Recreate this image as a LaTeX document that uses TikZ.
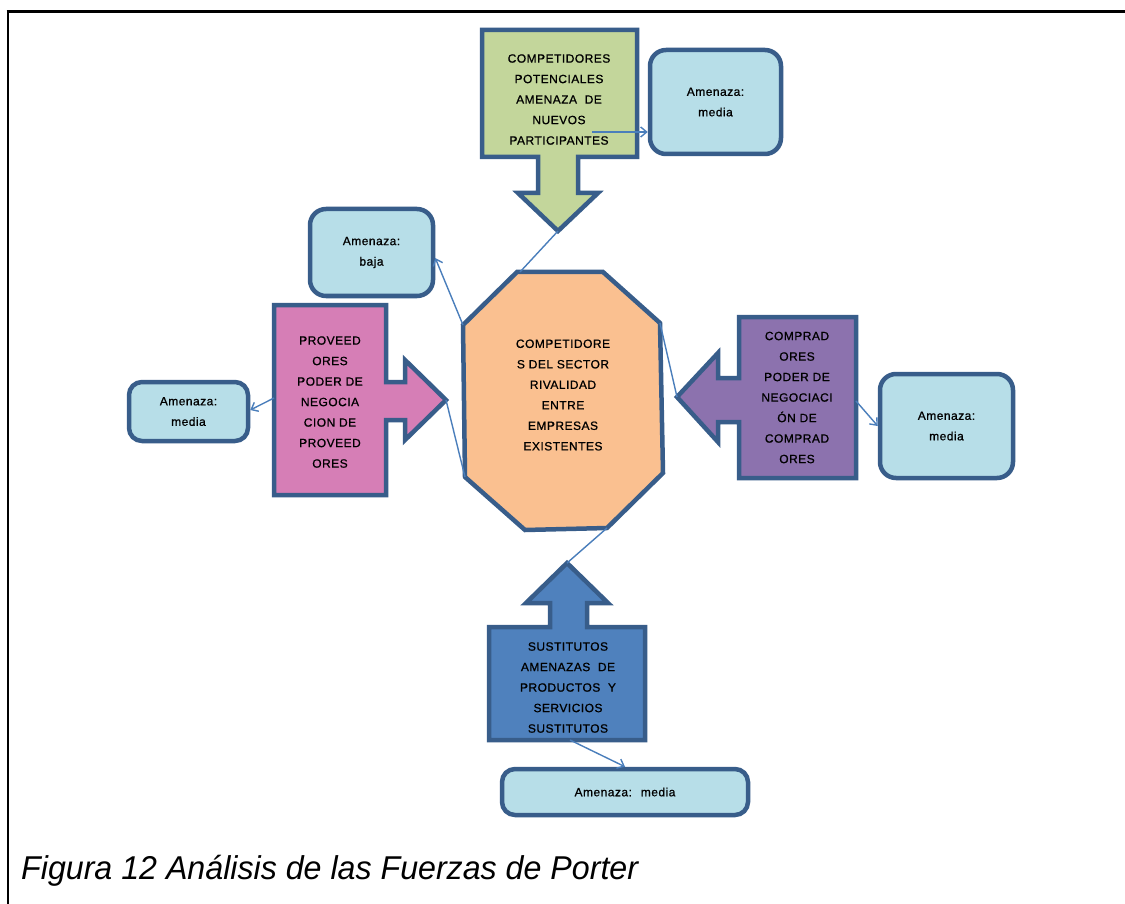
\documentclass[tikz,border=0pt]{standalone}
\usepackage{fontspec}
\setmainfont{Liberation Sans}
\newfontfamily\boxfont[LetterSpace=4, FakeBold=0.8]{Liberation Sans}
\usetikzlibrary{arrows.meta}

\definecolor{edge}{HTML}{385D8A}
\definecolor{link}{HTML}{4A7EBB}
\definecolor{sky}{HTML}{B7DEE8}
\definecolor{olive}{HTML}{C3D69B}
\definecolor{rose}{HTML}{D67EB6}
\definecolor{lilac}{HTML}{8C72AE}
\definecolor{steel}{HTML}{4F81BD}
\definecolor{peach}{HTML}{FAC090}

\tikzset{
  shapeline/.style={draw=edge, line width=4.5pt, line join=miter},
  txt/.style={font=\boxfont\fontsize{12}{20.5}\selectfont, align=center, inner sep=0pt},
  threat/.style={shapeline, fill=sky, rounded corners=16pt, txt},
  conn/.style={draw=link, line width=1.4pt},
  connarrow/.style={conn, -{Straight Barb[length=6pt,width=10pt]}},
}

\begin{document}
\begin{tikzpicture}[x=1pt, y=-1pt]
\useasboundingbox (0,0) rectangle (1125,904);
\fill[white] (0,0) rectangle (1125,904);

% frame lines
\draw[line width=3pt] (6.5,12) -- (1125,12);
\draw[line width=2pt] (8,12) -- (8,904);

% threats (new entrants)
\draw[shapeline, fill=olive] (482,30) -- (637,30) -- (637,157) -- (578,157) -- (578,193)
  -- (598,193) -- (558,231) -- (518,193) -- (538,193) -- (538,157) -- (482,157) -- cycle;
\coordinate (topTip) at (558,231);
\coordinate (topOut) at (592,132);
\node[txt] (tTop) at (559,99.5) {COMPETIDORES\\POTENCIALES\\AMENAZA \ DE\\NUEVOS\\PARTICIPANTES};

% suppliers
\draw[shapeline, fill=rose] (274,305) -- (386,305) -- (386,382) -- (405,382) -- (405,360)
  -- (446,400) -- (405,440) -- (405,420) -- (386,420) -- (386,495) -- (274,495) -- cycle;
\coordinate (leftTip) at (446,400);
\coordinate (leftOut) at (274,398);
\node[txt] (tLeft) at (330,402) {PROVEED\\ORES\\PODER DE\\NEGOCIA\\CION DE\\PROVEED\\ORES};

% buyers
\draw[shapeline, fill=lilac] (856,317) -- (739,317) -- (739,378) -- (718,378) -- (718,353)
  -- (677,397) -- (718,442) -- (718,422) -- (739,422) -- (739,478) -- (856,478) -- cycle;
\coordinate (rightTip) at (677,397);
\coordinate (rightOut) at (856,401);
\node[txt] (tRight) at (797,397.5) {COMPRAD\\ORES\\PODER DE\\NEGOCIACI\\ÓN DE\\COMPRAD\\ORES};

% substitutes
\draw[shapeline, fill=steel] (489,740) -- (489,627) -- (550,627) -- (550,603) -- (526,603)
  -- (567,563) -- (608,603) -- (587,603) -- (587,627) -- (645,627) -- (645,740) -- cycle;
\coordinate (botTip) at (567,563);
\coordinate (botOut) at (570,740);
\node[txt] (tBot) at (568,687.5) {SUSTITUTOS\\AMENAZAS \ DE\\PRODUCTOS \ Y\\SERVICIOS\\SUSTITUTOS};

% rivalry among existing firms
\coordinate (oA) at (517,272);
\coordinate (oB) at (603,272);
\coordinate (oC) at (660,323);
\coordinate (oD) at (663,473);
\coordinate (oE) at (607,528);
\coordinate (oF) at (525,530);
\coordinate (oG) at (465,477);
\coordinate (oH) at (463,325);
\draw[shapeline, fill=peach] (oA) -- (oB) -- (oC) -- (oD) -- (oE) -- (oF) -- (oG) -- (oH) -- cycle;
\node[txt] (tCore) at (563,395) {COMPETIDORE\\S DEL SECTOR\\RIVALIDAD\\ENTRE\\EMPRESAS\\EXISTENTES};

% threat levels
\node[threat, minimum width=131pt, minimum height=104pt] (aTop) at (715.5,102) {Amenaza:\\media};
\node[threat, minimum width=123pt, minimum height=87pt] (aBaja) at (371.5,252.5) {Amenaza:\\baja};
\node[threat, rounded corners=13pt, minimum width=119pt, minimum height=59pt] (aLeft) at (188.5,411.5) {Amenaza:\\media};
\node[threat, minimum width=133pt, minimum height=104pt] (aRight) at (946.5,426) {Amenaza:\\media};
\node[threat, rounded corners=13pt, minimum width=246pt, minimum height=46pt] (aBot) at (625,792) {Amenaza: \ media};

% connectors
\draw[conn] (oA) ++(3,0) -- (topTip);
\draw[connarrow] (topOut) -- (aTop.west |- topOut);
\draw[connarrow] (oH) -- (aBaja.east |- 0,258) ;
\draw[conn] (leftTip) -- (oG);
\draw[connarrow] (leftOut) -- (aLeft.east |- 0,410);
\draw[conn] (rightTip) -- (oC);
\draw[connarrow] (rightOut) -- (aRight.west |- 0,426);
\draw[conn] (botTip) -- (oE);
\draw[connarrow] (botOut) -- (aBot.north -| 625,0);

% caption
\node[anchor=base west, inner sep=0pt, font=\fontsize{33}{36}\selectfont\itshape] (cap) at (21,879) {\scalebox{0.975}[1]{Figura 12 Análisis de las Fuerzas de Porter}};
\end{tikzpicture}
\end{document}
